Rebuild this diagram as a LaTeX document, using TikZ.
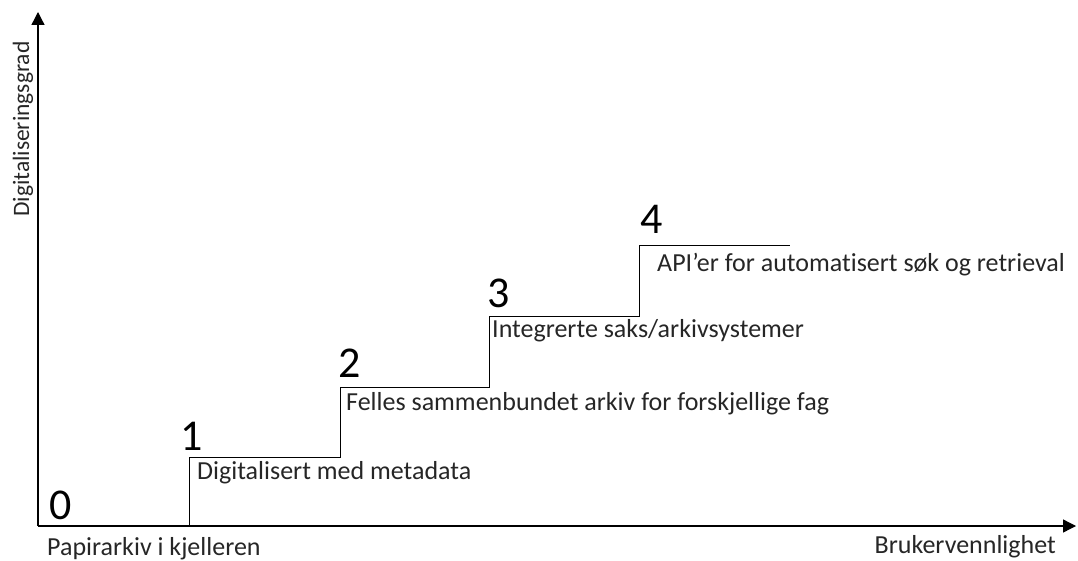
\documentclass[tikz,border=0pt]{standalone}
\usepackage{fontspec}
\setmainfont{Carlito}[Ligatures={NoCommon}]
\usetikzlibrary{arrows.meta}

\begin{document}
\begin{tikzpicture}[x=1pt, y=-1pt, >={Triangle[length=13pt,width=13pt]},
    axis/.style={->, line width=1.3pt},
    stair/.style={line width=1pt},
    levelnum/.style={anchor=base west, inner sep=0pt, font=\fontsize{44}{48}\selectfont},
    steplabel/.style={anchor=base west, inner sep=0pt, font=\fontsize{26}{30}\selectfont, text=black!85}]
    \useasboundingbox (0,0) rectangle (1078,561);

    % Akser
    \coordinate (O) at (38,526);
    \coordinate (yend) at (38,12);
    \coordinate (xend) at (1076,526);
    \draw[axis] (O) -- (yend);
    \draw[axis] (O) -- (xend);
    \node[steplabel, rotate=90, font=\fontsize{23.5}{27}\selectfont] (ylab) at (29,217) {Digitaliseringsgrad};
    \node[steplabel, anchor=base east] (xlab) at (1056,553) {Brukervennlighet};

    % Trappetrinn
    \coordinate (b1) at (189,526);
    \coordinate (t1) at (189,457);
    \coordinate (t2) at (340,387);
    \coordinate (t3) at (489,316);
    \coordinate (t4) at (639,246);
    \coordinate (e4) at (790,246);
    \draw[stair] (b1) -- (t1) -| (t2) -| (t3) -| (t4) -- (e4);

    % Nivaa 0
    \node[levelnum] (n0) at ([shift={(11,-7)}]O) {0};
    \node[steplabel] (l0) at (47,555) {Papirarkiv i kjelleren};

    % Nivaa 1
    \node[levelnum] (n1) at ([shift={(-9,-7)}]t1) {1};
    \node[steplabel] (l1) at ([shift={(8,22)}]t1) {Digitalisert med metadata};

    % Nivaa 2
    \node[levelnum] (n2) at ([shift={(-2,-10)}]t2) {2};
    \node[steplabel] (l2) at ([shift={(6,23)}]t2) {Felles sammenbundet arkiv for forskjellige fag};

    % Nivaa 3
    \node[levelnum] (n3) at ([shift={(-2,-9)}]t3) {3};
    \node[steplabel] (l3) at ([shift={(3,21)}]t3) {Integrerte saks/arkivsystemer};

    % Nivaa 4
    \node[levelnum] (n4) at ([shift={(1,-12)}]t4) {4};
    \node[steplabel] (l4) at ([shift={(18,26)}]t4) {API’er for automatisert søk og retrieval};

\end{tikzpicture}
\end{document}
